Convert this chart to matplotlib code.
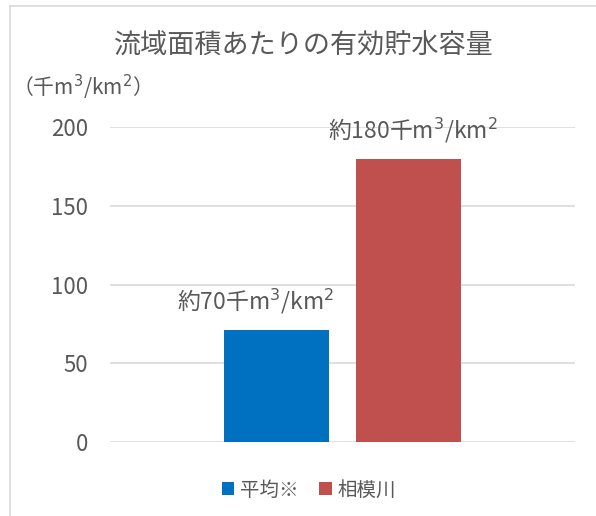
import matplotlib
matplotlib.use("Agg")
import matplotlib.pyplot as plt
from matplotlib.lines import Line2D

plt.rcParams['font.family'] = ['Noto Sans CJK JP', 'DejaVu Sans']
plt.rcParams['mathtext.fontset'] = 'dejavusans'

title = "流域面積あたりの有効貯水容量"
unit_label = "（千m$^3$/km$^2$）"
series_names = ["平均※", "相模川"]
values = [71, 180]
value_labels = ["約70千m$^3$/km$^2$", "約180千m$^3$/km$^2$"]
colors = ["#0070C0", "#C0504D"]
yticks = [0, 50, 100, 150, 200]

W, H = 596, 516
fig = plt.figure(figsize=(W / 100, H / 100), dpi=100)

# frame lines around the chart area
fig.add_artist(Line2D([9.5 / W, 1.0], [1 - 5.5 / H, 1 - 5.5 / H], color="#D9D9D9", lw=1.2))
fig.add_artist(Line2D([9.5 / W, 9.5 / W], [0, 1 - 5.5 / H], color="#D9D9D9", lw=1.2))

left, right = 110 / W, 575 / W
bottom, top = 1 - 442 / H, 1 - 127 / H
ax = fig.add_axes([left, bottom, right - left, top - bottom])

positions = [-0.142, 0.142]
width = 0.226
label_dx = [-15, 3]
text_color = "#595959"
for x, v, c, name, lab, dx in zip(positions, values, colors, series_names, value_labels, label_dx):
    ax.bar(x, v, width=width, color=c, label=name, zorder=3)
    ax.annotate(lab, (x, v), xytext=(dx, 10), textcoords="offset points",
                ha="center", va="bottom", fontsize=16.5, color=text_color)

ax.set_xlim(-0.5, 0.5)
ax.set_ylim(0, 200)
ax.set_yticks(yticks)
ax.set_yticklabels([str(t) for t in yticks], fontsize=16, color=text_color)
ax.set_xticks([])
ax.tick_params(axis="y", length=0, pad=16)
ax.grid(axis="y", color="#D9D9D9", lw=1.2, zorder=0)
for s in ax.spines.values():
    s.set_visible(False)

fig.text(304 / W, 1 - 45 / H, title, ha="center", va="center", fontsize=19.5, color=text_color)
fig.text(12 / W, 1 - 87 / H, unit_label, ha="left", va="center", fontsize=15, color=text_color)

handles, labels = ax.get_legend_handles_labels()
fig.legend(handles, labels, loc="center", bbox_to_anchor=(309 / W, 1 - 490 / H), ncol=2,
           frameon=False, fontsize=14, labelcolor=text_color, handlelength=0.65, handleheight=0.65,
           handletextpad=0.3, columnspacing=1.05)

fig.savefig("out.png", dpi=100, facecolor="white")
